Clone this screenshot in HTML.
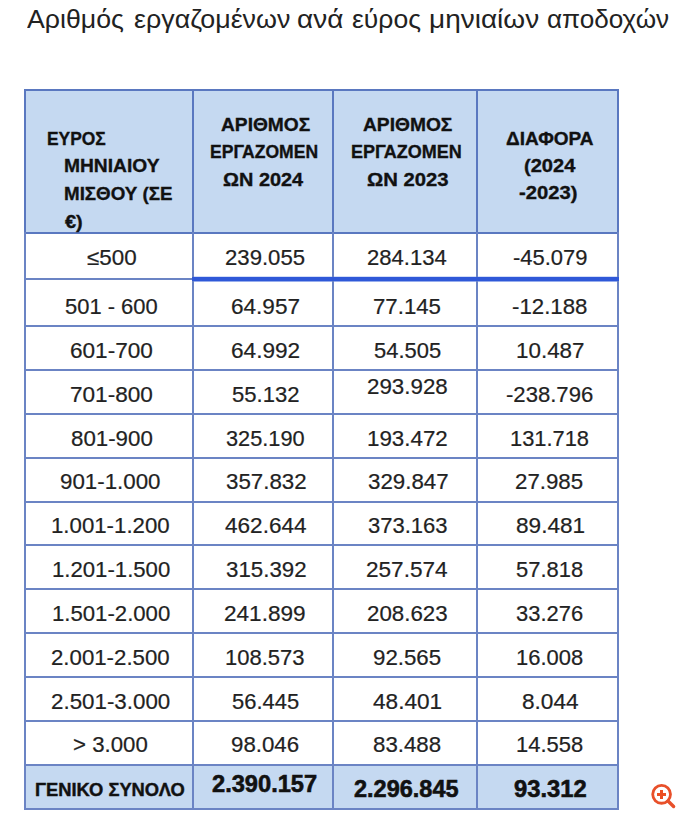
<!DOCTYPE html>
<html><head><meta charset="utf-8"><style>
html,body{margin:0;padding:0;background:#fff;}
body{width:680px;height:813px;position:relative;overflow:hidden;font-family:"Liberation Sans",Arial,sans-serif;color:#222222;}
.t{position:absolute;white-space:nowrap;line-height:0;height:0;transform-origin:0 0;}
.b{font-weight:bold;}
.r{position:absolute;}
</style></head><body>

<div class="r" style="left:24px;top:89px;width:595px;height:143px;background:#c5d9f1"></div>
<div class="r" style="left:24px;top:764px;width:595px;height:44px;background:#c5d9f1"></div>
<div class="r" style="left:192px;top:276px;width:427px;height:1px;background:#d3ddf8"></div>
<div class="r" style="left:192px;top:281px;width:427px;height:1px;background:#97aded"></div>
<div class="r" style="left:24px;top:89px;width:595px;height:2px;background:#5a78c0"></div>
<div class="r" style="left:24px;top:232px;width:595px;height:2px;background:#5a78c0"></div>
<div class="r" style="left:24px;top:278px;width:595px;height:2px;background:#6b84c4"></div>
<div class="r" style="left:24px;top:325px;width:595px;height:2px;background:#6b84c4"></div>
<div class="r" style="left:24px;top:369px;width:595px;height:2px;background:#6b84c4"></div>
<div class="r" style="left:24px;top:413px;width:595px;height:2px;background:#6b84c4"></div>
<div class="r" style="left:24px;top:457px;width:595px;height:2px;background:#6b84c4"></div>
<div class="r" style="left:24px;top:501px;width:595px;height:2px;background:#6b84c4"></div>
<div class="r" style="left:24px;top:544px;width:595px;height:2px;background:#6b84c4"></div>
<div class="r" style="left:24px;top:588px;width:595px;height:2px;background:#6b84c4"></div>
<div class="r" style="left:24px;top:632px;width:595px;height:2px;background:#6b84c4"></div>
<div class="r" style="left:24px;top:676px;width:595px;height:2px;background:#6b84c4"></div>
<div class="r" style="left:24px;top:720px;width:595px;height:2px;background:#6b84c4"></div>
<div class="r" style="left:24px;top:764px;width:595px;height:2px;background:#6b84c4"></div>
<div class="r" style="left:24px;top:808px;width:595px;height:2px;background:#6b84c4"></div>
<div class="r" style="left:24px;top:89px;width:2px;height:143px;background:#5a78c0"></div>
<div class="r" style="left:24px;top:232px;width:2px;height:578px;background:#6b84c4"></div>
<div class="r" style="left:192px;top:89px;width:2px;height:143px;background:#5a78c0"></div>
<div class="r" style="left:192px;top:232px;width:2px;height:578px;background:#6b84c4"></div>
<div class="r" style="left:332px;top:89px;width:2px;height:143px;background:#5a78c0"></div>
<div class="r" style="left:332px;top:232px;width:2px;height:578px;background:#6b84c4"></div>
<div class="r" style="left:476px;top:89px;width:2px;height:143px;background:#5a78c0"></div>
<div class="r" style="left:476px;top:232px;width:2px;height:578px;background:#6b84c4"></div>
<div class="r" style="left:617px;top:89px;width:2px;height:143px;background:#5a78c0"></div>
<div class="r" style="left:617px;top:232px;width:2px;height:578px;background:#6b84c4"></div>
<div class="r" style="left:192px;top:277px;width:427px;height:4px;background:#2f58d8"></div>
<div class="t" style="left:27.20px;top:19.00px;font-size:25px;color:#222;transform:scaleX(1.0688)">Αριθμός</div>
<div class="t" style="left:133.50px;top:19.00px;font-size:25px;color:#222;transform:scaleX(1.0741)">εργαζομένων</div>
<div class="t" style="left:297.08px;top:19.00px;font-size:25px;color:#222;transform:scaleX(1.1188)">ανά</div>
<div class="t" style="left:352.30px;top:19.00px;font-size:25px;color:#222;transform:scaleX(1.0609)">εύρος</div>
<div class="t" style="left:429.48px;top:19.00px;font-size:25px;color:#222;transform:scaleX(1.1198)">μηνιαίων</div>
<div class="t" style="left:547.46px;top:19.00px;font-size:25px;color:#222;transform:scaleX(1.0445)">αποδοχών</div>
<div class="t b" style="left:47.26px;top:139.00px;font-size:18.6px;color:#111;transform:scaleX(0.9356);-webkit-text-stroke:0.35px">ΕΥΡΟΣ</div>
<div class="t b" style="left:63.67px;top:166.00px;font-size:18.6px;color:#111;transform:scaleX(1.0331);-webkit-text-stroke:0.35px">ΜΗΝΙΑΙΟΥ</div>
<div class="t b" style="left:63.69px;top:194.00px;font-size:18.6px;color:#111;transform:scaleX(1.0091);-webkit-text-stroke:0.35px">ΜΙΣΘΟΥ (ΣΕ</div>
<div class="t b" style="left:64.70px;top:222.00px;font-size:18.6px;color:#111;transform:scaleX(1.0709);-webkit-text-stroke:0.35px">€)</div>
<div class="t b" style="left:221.20px;top:125.00px;font-size:18.6px;color:#111;transform:scaleX(1.0311);-webkit-text-stroke:0.35px">ΑΡΙΘΜΟΣ</div>
<div class="t b" style="left:210.26px;top:152.00px;font-size:18.6px;color:#111;transform:scaleX(0.9435);-webkit-text-stroke:0.35px">ΕΡΓΑΖΟΜΕΝ</div>
<div class="t b" style="left:222.60px;top:180.00px;font-size:18.6px;color:#111;transform:scaleX(1.0712);-webkit-text-stroke:0.35px">ΩΝ 2024</div>
<div class="t b" style="left:362.60px;top:125.00px;font-size:18.6px;color:#111;transform:scaleX(1.0323);-webkit-text-stroke:0.35px">ΑΡΙΘΜΟΣ</div>
<div class="t b" style="left:351.13px;top:152.00px;font-size:18.6px;color:#111;transform:scaleX(0.9673);-webkit-text-stroke:0.35px">ΕΡΓΑΖΟΜΕΝ</div>
<div class="t b" style="left:366.50px;top:180.00px;font-size:18.6px;color:#111;transform:scaleX(1.0896);-webkit-text-stroke:0.35px">ΩΝ 2023</div>
<div class="t b" style="left:506.30px;top:139.00px;font-size:18.6px;color:#111;transform:scaleX(1.0222);-webkit-text-stroke:0.35px">ΔΙΑΦΟΡΑ</div>
<div class="t b" style="left:523.80px;top:166.00px;font-size:18.6px;color:#111;transform:scaleX(1.0806);-webkit-text-stroke:0.35px">(2024</div>
<div class="t b" style="left:518.50px;top:193.00px;font-size:18.6px;color:#111;transform:scaleX(1.0867);-webkit-text-stroke:0.35px">-2023)</div>
<div class="t" style="left:86.60px;top:258.00px;font-size:21.6px;color:#222222;transform:scaleX(1.0361);-webkit-text-stroke:0.2px">≤500</div>
<div class="t" style="left:224.97px;top:258.00px;font-size:21.6px;color:#222222;transform:scaleX(1.0254);-webkit-text-stroke:0.2px">239.055</div>
<div class="t" style="left:366.78px;top:258.00px;font-size:21.6px;color:#222222;transform:scaleX(1.0215);-webkit-text-stroke:0.2px">284.134</div>
<div class="t" style="left:512.50px;top:258.00px;font-size:21.6px;color:#222222;transform:scaleX(1.0162);-webkit-text-stroke:0.2px">-45.079</div>
<div class="t" style="left:65.10px;top:307.00px;font-size:21.6px;color:#222222;transform:scaleX(1.0160);-webkit-text-stroke:0.2px">501 - 600</div>
<div class="t" style="left:230.56px;top:307.00px;font-size:21.6px;color:#222222;transform:scaleX(1.0447);-webkit-text-stroke:0.2px">64.957</div>
<div class="t" style="left:372.87px;top:307.00px;font-size:21.6px;color:#222222;transform:scaleX(1.0286);-webkit-text-stroke:0.2px">77.145</div>
<div class="t" style="left:512.30px;top:307.00px;font-size:21.6px;color:#222222;transform:scaleX(1.0297);-webkit-text-stroke:0.2px">-12.188</div>
<div class="t" style="left:69.65px;top:351.00px;font-size:21.6px;color:#222222;transform:scaleX(1.0455);-webkit-text-stroke:0.2px">601-700</div>
<div class="t" style="left:230.72px;top:351.00px;font-size:21.6px;color:#222222;transform:scaleX(1.0473);-webkit-text-stroke:0.2px">64.992</div>
<div class="t" style="left:373.77px;top:351.00px;font-size:21.6px;color:#222222;transform:scaleX(1.0156);-webkit-text-stroke:0.2px">54.505</div>
<div class="t" style="left:515.76px;top:351.00px;font-size:21.6px;color:#222222;transform:scaleX(1.0369);-webkit-text-stroke:0.2px">10.487</div>
<div class="t" style="left:69.65px;top:395.00px;font-size:21.6px;color:#222222;transform:scaleX(1.0455);-webkit-text-stroke:0.2px">701-800</div>
<div class="t" style="left:231.60px;top:395.00px;font-size:21.6px;color:#222222;transform:scaleX(1.0210);-webkit-text-stroke:0.2px">55.132</div>
<div class="t" style="left:366.67px;top:387.00px;font-size:21.6px;color:#222222;transform:scaleX(1.0344);-webkit-text-stroke:0.2px">293.928</div>
<div class="t" style="left:506.40px;top:395.00px;font-size:21.6px;color:#222222;transform:scaleX(1.0230);-webkit-text-stroke:0.2px">-238.796</div>
<div class="t" style="left:70.70px;top:439.00px;font-size:21.6px;color:#222222;transform:scaleX(1.0323);-webkit-text-stroke:0.2px">801-900</div>
<div class="t" style="left:226.10px;top:439.00px;font-size:21.6px;color:#222222;transform:scaleX(1.0071);-webkit-text-stroke:0.2px">325.190</div>
<div class="t" style="left:367.27px;top:439.00px;font-size:21.6px;color:#222222;transform:scaleX(1.0349);-webkit-text-stroke:0.2px">193.472</div>
<div class="t" style="left:509.79px;top:439.00px;font-size:21.6px;color:#222222;transform:scaleX(1.0124);-webkit-text-stroke:0.2px">131.718</div>
<div class="t" style="left:60.37px;top:482.00px;font-size:21.6px;color:#222222;transform:scaleX(1.0328);-webkit-text-stroke:0.2px">901-1.000</div>
<div class="t" style="left:225.53px;top:482.00px;font-size:21.6px;color:#222222;transform:scaleX(1.0323);-webkit-text-stroke:0.2px">357.832</div>
<div class="t" style="left:367.53px;top:482.00px;font-size:21.6px;color:#222222;transform:scaleX(1.0323);-webkit-text-stroke:0.2px">329.847</div>
<div class="t" style="left:515.23px;top:482.00px;font-size:21.6px;color:#222222;transform:scaleX(1.0312);-webkit-text-stroke:0.2px">27.985</div>
<div class="t" style="left:51.37px;top:526.00px;font-size:21.6px;color:#222222;transform:scaleX(1.0293);-webkit-text-stroke:0.2px">1.001-1.200</div>
<div class="t" style="left:224.53px;top:526.00px;font-size:21.6px;color:#222222;transform:scaleX(1.0447);-webkit-text-stroke:0.2px">462.644</div>
<div class="t" style="left:367.53px;top:526.00px;font-size:21.6px;color:#222222;transform:scaleX(1.0191);-webkit-text-stroke:0.2px">373.163</div>
<div class="t" style="left:515.77px;top:526.00px;font-size:21.6px;color:#222222;transform:scaleX(1.0466);-webkit-text-stroke:0.2px">89.481</div>
<div class="t" style="left:51.87px;top:570.00px;font-size:21.6px;color:#222222;transform:scaleX(1.0258);-webkit-text-stroke:0.2px">1.201-1.500</div>
<div class="t" style="left:225.53px;top:570.00px;font-size:21.6px;color:#222222;transform:scaleX(1.0323);-webkit-text-stroke:0.2px">315.392</div>
<div class="t" style="left:365.99px;top:570.00px;font-size:21.6px;color:#222222;transform:scaleX(1.0453);-webkit-text-stroke:0.2px">257.574</div>
<div class="t" style="left:516.27px;top:570.00px;font-size:21.6px;color:#222222;transform:scaleX(1.0156);-webkit-text-stroke:0.2px">57.818</div>
<div class="t" style="left:51.87px;top:614.00px;font-size:21.6px;color:#222222;transform:scaleX(1.0258);-webkit-text-stroke:0.2px">1.501-2.000</div>
<div class="t" style="left:224.49px;top:614.00px;font-size:21.6px;color:#222222;transform:scaleX(1.0459);-webkit-text-stroke:0.2px">241.899</div>
<div class="t" style="left:366.50px;top:614.00px;font-size:21.6px;color:#222222;transform:scaleX(1.0323);-webkit-text-stroke:0.2px">208.623</div>
<div class="t" style="left:516.27px;top:614.00px;font-size:21.6px;color:#222222;transform:scaleX(1.0156);-webkit-text-stroke:0.2px">33.276</div>
<div class="t" style="left:51.37px;top:658.00px;font-size:21.6px;color:#222222;transform:scaleX(1.0293);-webkit-text-stroke:0.2px">2.001-2.500</div>
<div class="t" style="left:225.01px;top:658.00px;font-size:21.6px;color:#222222;transform:scaleX(1.0193);-webkit-text-stroke:0.2px">108.573</div>
<div class="t" style="left:372.73px;top:658.00px;font-size:21.6px;color:#222222;transform:scaleX(1.0312);-webkit-text-stroke:0.2px">92.565</div>
<div class="t" style="left:515.75px;top:658.00px;font-size:21.6px;color:#222222;transform:scaleX(1.0159);-webkit-text-stroke:0.2px">16.008</div>
<div class="t" style="left:51.36px;top:702.00px;font-size:21.6px;color:#222222;transform:scaleX(1.0345);-webkit-text-stroke:0.2px">2.501-3.000</div>
<div class="t" style="left:231.77px;top:702.00px;font-size:21.6px;color:#222222;transform:scaleX(1.0156);-webkit-text-stroke:0.2px">56.445</div>
<div class="t" style="left:373.27px;top:702.00px;font-size:21.6px;color:#222222;transform:scaleX(1.0466);-webkit-text-stroke:0.2px">48.401</div>
<div class="t" style="left:521.50px;top:702.00px;font-size:21.6px;color:#222222;transform:scaleX(1.0477);-webkit-text-stroke:0.2px">8.044</div>
<div class="t" style="left:72.57px;top:745.00px;font-size:21.6px;color:#222222;transform:scaleX(1.0288);-webkit-text-stroke:0.2px">&gt; 3.000</div>
<div class="t" style="left:230.73px;top:745.00px;font-size:21.6px;color:#222222;transform:scaleX(1.0312);-webkit-text-stroke:0.2px">98.046</div>
<div class="t" style="left:373.27px;top:745.00px;font-size:21.6px;color:#222222;transform:scaleX(1.0308);-webkit-text-stroke:0.2px">83.488</div>
<div class="t" style="left:515.75px;top:745.00px;font-size:21.6px;color:#222222;transform:scaleX(1.0159);-webkit-text-stroke:0.2px">14.558</div>
<div class="t b" style="left:35.49px;top:790.00px;font-size:18.2px;color:#111;transform:scaleX(1.0086);-webkit-text-stroke:0.4px">ΓΕΝΙΚΟ ΣΥΝΟΛΟ</div>
<div class="t b" style="left:212.10px;top:784.00px;font-size:23.8px;color:#111;transform:scaleX(0.9931);-webkit-text-stroke:0.6px">2.390.157</div>
<div class="t b" style="left:353.60px;top:789.00px;font-size:23.8px;color:#111;transform:scaleX(0.9874);-webkit-text-stroke:0.6px">2.296.845</div>
<div class="t b" style="left:513.80px;top:789.00px;font-size:23.8px;color:#111;transform:scaleX(0.9979);-webkit-text-stroke:0.6px">93.312</div>
<svg style="position:absolute;left:646px;top:780px" width="34" height="32" viewBox="0 0 34 32">
<circle cx="15.6" cy="14.35" r="8.9" fill="none" stroke="#e8502a" stroke-width="2.8"/>
<path d="M11 14.5h9M15.5 10v8.9" stroke="#ec4f23" stroke-width="3"/>
<path d="M22 21l5.6 5.5" stroke="#e8502a" stroke-width="3.4" stroke-linecap="round"/>
</svg>
</body></html>
